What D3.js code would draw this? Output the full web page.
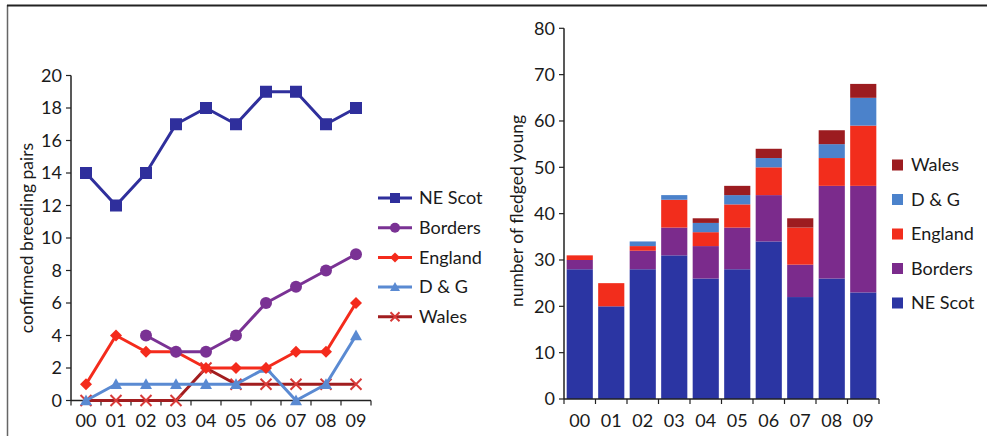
<!DOCTYPE html>
<html>
<head>
<meta charset="utf-8">
<script src="https://cdn.jsdelivr.net/npm/d3@7"></script>
<style>
  html, body { margin: 0; padding: 0; background: #fff; }
  svg { display: block; font-family: Lato, "Open Sans", sans-serif; }
</style>
</head>
<body>
<svg id="chart" width="987" height="436"></svg>
<script>
// Years (two-digit labels)
const years = ["00", "01", "02", "03", "04", "05", "06", "07", "08", "09"];
const regions = ["NE Scot", "Borders", "England", "D & G", "Wales"];

// Confirmed breeding pairs by region
const pairsNEScot  = [14, 12, 14, 17, 18, 17, 19, 19, 17, 18];
const pairsBorders = [null, null, 4, 3, 3, 4, 6, 7, 8, 9];
const pairsEngland = [1, 4, 3, 3, 2, 2, 2, 3, 3, 6];
const pairsDG      = [0, 1, 1, 1, 1, 1, 2, 0, 1, 4];
const pairsWales   = [0, 0, 0, 0, 2, 1, 1, 1, 1, 1];

// Number of fledged young by region
const youngNEScot  = [28, 20, 28, 31, 26, 28, 34, 22, 26, 23];
const youngBorders = [2, 0, 4, 6, 7, 9, 10, 7, 20, 23];
const youngEngland = [1, 5, 1, 6, 3, 5, 6, 8, 6, 13];
const youngDG      = [0, 0, 1, 1, 2, 2, 2, 0, 3, 6];
const youngWales   = [0, 0, 0, 0, 1, 2, 2, 2, 3, 3];

const pairsTicks = [0, 2, 4, 6, 8, 10, 12, 14, 16, 18, 20];
const youngTicks = [0, 10, 20, 30, 40, 50, 60, 70, 80];

const lineColors = {
  "NE Scot": "#2f2f9c", "Borders": "#7a3294", "England": "#f42b1c",
  "D & G": "#5a8ad2", "Wales": "#a11d1f"
};
const barColors = {
  "NE Scot": "#2b35a3", "Borders": "#7b2b8c", "England": "#f22d1c",
  "D & G": "#4b82cb", "Wales": "#9c1c20"
};

const svg = d3.select("#chart");
const axisColor = "#222";
const textColor = "#1a1a1a";
const tickFont = 18;

// Outer frame (left and top rules)
svg.append("line").attr("x1", 7.5).attr("x2", 7.5).attr("y1", 5).attr("y2", 436)
  .attr("stroke", "#666").attr("stroke-width", 1.5);
svg.append("line").attr("x1", 7).attr("x2", 987).attr("y1", 5.5).attr("y2", 5.5)
  .attr("stroke", "#222").attr("stroke-width", 2);

// ---------- Line chart: confirmed breeding pairs ----------
const L = { x0: 71, x1: 371, y0: 400.5, y1: 75.5 };
const lx = d3.scaleBand().domain(years).range([L.x0, L.x1]);
const ly = d3.scaleLinear().domain([0, 20]).range([L.y0, L.y1]);
const lg = svg.append("g");

// y axis
lg.append("line").attr("x1", L.x0).attr("x2", L.x0).attr("y1", L.y0).attr("y2", L.y1)
  .attr("stroke", axisColor).attr("stroke-width", 1.5);
pairsTicks.forEach(t => {
  lg.append("line").attr("x1", L.x0 - 5).attr("x2", L.x0).attr("y1", ly(t)).attr("y2", ly(t))
    .attr("stroke", axisColor).attr("stroke-width", 1.2);
  lg.append("text").attr("x", L.x0 - 9).attr("y", ly(t)).attr("dy", "0.35em")
    .attr("text-anchor", "end").attr("font-size", tickFont).attr("fill", textColor).text(t);
});
// x axis
lg.append("line").attr("x1", L.x0).attr("x2", L.x1).attr("y1", L.y0).attr("y2", L.y0)
  .attr("stroke", axisColor).attr("stroke-width", 1.5);
years.forEach(y => {
  lg.append("line").attr("x1", lx(y)).attr("x2", lx(y)).attr("y1", L.y0).attr("y2", L.y0 + 5)
    .attr("stroke", axisColor).attr("stroke-width", 1.2);
  lg.append("text").attr("x", lx(y) + lx.bandwidth() / 2).attr("y", 421).attr("dy", "0.35em")
    .attr("text-anchor", "middle").attr("font-size", tickFont).attr("fill", textColor).text(y);
});
lg.append("line").attr("x1", L.x1).attr("x2", L.x1).attr("y1", L.y0).attr("y2", L.y0 + 5)
  .attr("stroke", axisColor).attr("stroke-width", 1.2);
lg.append("text").attr("transform", `translate(27,238) rotate(-90)`)
  .attr("text-anchor", "middle").attr("dy", "0.35em").attr("font-size", 17.5)
  .attr("fill", textColor).text("confirmed breeding pairs");

function marker(g, kind, cx, cy, color, s) {
  if (kind === "square") {
    g.append("rect").attr("x", cx - s / 2).attr("y", cy - s / 2).attr("width", s).attr("height", s)
      .attr("fill", color);
  } else if (kind === "circle") {
    g.append("circle").attr("cx", cx).attr("cy", cy).attr("r", s / 2).attr("fill", color);
  } else if (kind === "diamond") {
    const h = s / 2;
    g.append("path").attr("d", `M${cx},${cy - h}L${cx + h},${cy}L${cx},${cy + h}L${cx - h},${cy}Z`)
      .attr("fill", color);
  } else if (kind === "triangle") {
    const h = s / 2;
    g.append("path").attr("d", `M${cx},${cy - h}L${cx + h},${cy + h * 0.8}L${cx - h},${cy + h * 0.8}Z`)
      .attr("fill", color);
  } else if (kind === "cross") {
    const h = s / 2;
    g.append("path").attr("d", `M${cx - h},${cy - h}L${cx + h},${cy + h}M${cx + h},${cy - h}L${cx - h},${cy + h}`)
      .attr("stroke", color).attr("stroke-width", 2).attr("fill", "none");
  }
}

const lineSeries = [
  { name: "NE Scot", values: pairsNEScot, kind: "square", size: 12, mcol: "#2f2f9c" },
  { name: "Borders", values: pairsBorders, kind: "circle", size: 12, mcol: "#7a3294" },
  { name: "England", values: pairsEngland, kind: "diamond", size: 12, mcol: "#f42b1c" },
  { name: "D & G", values: pairsDG, kind: "triangle", size: 12, mcol: "#5a8ad2" },
  { name: "Wales", values: pairsWales, kind: "cross", size: 11, mcol: "#d83a38" }
];
const px = i => lx(years[i]) + lx.bandwidth() / 2;
const lineGen = d3.line().defined(d => d.v !== null).x(d => px(d.i)).y(d => ly(d.v));

lineSeries.slice().reverse().forEach(s => {
  const pts = s.values.map((v, i) => ({ v, i }));
  lg.append("path").datum(pts).attr("d", lineGen).attr("fill", "none")
    .attr("stroke", lineColors[s.name]).attr("stroke-width", 3).attr("stroke-linejoin", "round");
  pts.filter(d => d.v !== null).forEach(d => marker(lg, s.kind, px(d.i), ly(d.v), s.mcol, s.size));
});

// legend for line chart
lineSeries.forEach((s, k) => {
  const y = 198 + k * 29.7;
  lg.append("line").attr("x1", 378).attr("x2", 412).attr("y1", y).attr("y2", y)
    .attr("stroke", lineColors[s.name]).attr("stroke-width", 3);
  marker(lg, s.kind, 395, y, s.mcol, s.size - 2);
  lg.append("text").attr("x", 419).attr("y", y).attr("dy", "0.35em").attr("font-size", 18)
    .attr("fill", textColor).text(s.name);
});

// ---------- Stacked bar chart: number of fledged young ----------
const B = { x0: 564, x1: 879, y0: 399, y1: 28.3 };
const bx = d3.scaleBand().domain(years).range([B.x0, B.x1]).paddingInner(0.17).paddingOuter(0.085);
const by = d3.scaleLinear().domain([0, 80]).range([B.y0, B.y1]);
const bg = svg.append("g");

const youngByRegion = {
  "NE Scot": youngNEScot, "Borders": youngBorders, "England": youngEngland,
  "D & G": youngDG, "Wales": youngWales
};
const table = years.map((y, i) => {
  const row = { year: y };
  regions.forEach(r => { row[r] = youngByRegion[r][i]; });
  return row;
});
const stacked = d3.stack().keys(regions)(table);

stacked.forEach(layer => {
  bg.append("g").attr("fill", barColors[layer.key]).selectAll("rect").data(layer)
    .join("rect")
    .attr("x", d => bx(d.data.year))
    .attr("width", bx.bandwidth())
    .attr("y", d => by(d[1]))
    .attr("height", d => by(d[0]) - by(d[1]));
});

// y axis
bg.append("line").attr("x1", B.x0).attr("x2", B.x0).attr("y1", B.y0).attr("y2", B.y1)
  .attr("stroke", axisColor).attr("stroke-width", 1.5);
youngTicks.forEach(t => {
  bg.append("line").attr("x1", B.x0 - 5).attr("x2", B.x0).attr("y1", by(t)).attr("y2", by(t))
    .attr("stroke", axisColor).attr("stroke-width", 1.2);
  bg.append("text").attr("x", B.x0 - 9).attr("y", by(t)).attr("dy", "0.35em")
    .attr("text-anchor", "end").attr("font-size", tickFont).attr("fill", textColor).text(t);
});
// x axis
bg.append("line").attr("x1", B.x0).attr("x2", B.x1).attr("y1", B.y0).attr("y2", B.y0)
  .attr("stroke", axisColor).attr("stroke-width", 1.5);
years.forEach((y, i) => {
  const left = B.x0 + i * (B.x1 - B.x0) / years.length;
  bg.append("line").attr("x1", left).attr("x2", left).attr("y1", B.y0).attr("y2", B.y0 + 5)
    .attr("stroke", axisColor).attr("stroke-width", 1.2);
  bg.append("text").attr("x", bx(y) + bx.bandwidth() / 2).attr("y", 421).attr("dy", "0.35em")
    .attr("text-anchor", "middle").attr("font-size", tickFont).attr("fill", textColor).text(y);
});
bg.append("line").attr("x1", B.x1).attr("x2", B.x1).attr("y1", B.y0).attr("y2", B.y0 + 5)
  .attr("stroke", axisColor).attr("stroke-width", 1.2);
bg.append("text").attr("transform", `translate(517,211) rotate(-90)`)
  .attr("text-anchor", "middle").attr("dy", "0.35em").attr("font-size", 17.5)
  .attr("fill", textColor).text("number of fledged young");

// legend for bar chart (top-down: reverse stacking order)
regions.slice().reverse().forEach((r, k) => {
  const y = 165 + k * 34.5;
  bg.append("rect").attr("x", 892).attr("y", y - 5.5).attr("width", 11).attr("height", 11)
    .attr("fill", barColors[r]);
  bg.append("text").attr("x", 911).attr("y", y).attr("dy", "0.35em").attr("font-size", 18)
    .attr("fill", textColor).text(r);
});
</script>
</body>
</html>
